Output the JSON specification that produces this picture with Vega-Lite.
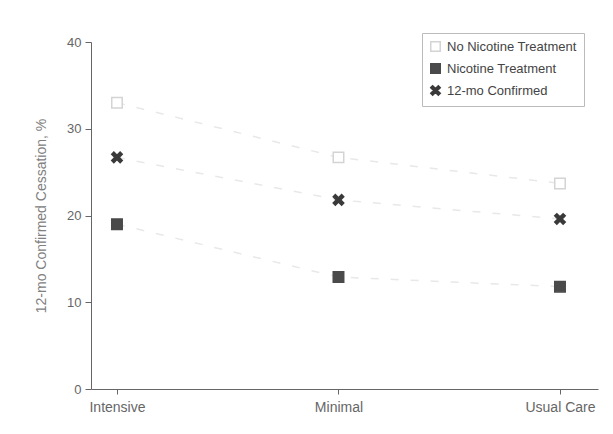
{
  "$schema": "https://vega.github.io/schema/vega-lite/v6.json",
  "autosize": "none",
  "width": 507,
  "height": 347,
  "padding": {"left": 91, "top": 42, "right": 15, "bottom": 45},
  "background": "white",
  "config": {
    "view": {"stroke": null},
    "font": "Liberation Sans, sans-serif",
    "axis": {"labelColor": "#666666", "titleColor": "#808080", "domainColor": "#666666", "tickColor": "#666666", "grid": false, "labelFont": "Liberation Sans, sans-serif", "titleFont": "Liberation Sans, sans-serif"},
    "legend": {"labelFont": "Liberation Sans, sans-serif"}
  },
  "data": {
    "values": [
      {"group": "Intensive", "series": "No Nicotine Treatment", "value": 33.0},
      {"group": "Minimal", "series": "No Nicotine Treatment", "value": 26.7},
      {"group": "Usual Care", "series": "No Nicotine Treatment", "value": 23.7},
      {"group": "Intensive", "series": "Nicotine Treatment", "value": 19.0},
      {"group": "Minimal", "series": "Nicotine Treatment", "value": 12.9},
      {"group": "Usual Care", "series": "Nicotine Treatment", "value": 11.8},
      {"group": "Intensive", "series": "12-mo Confirmed", "value": 26.7},
      {"group": "Minimal", "series": "12-mo Confirmed", "value": 21.8},
      {"group": "Usual Care", "series": "12-mo Confirmed", "value": 19.6}
    ]
  },
  "encoding": {
    "x": {
      "field": "group", "type": "nominal",
      "sort": ["Intensive", "Minimal", "Usual Care"],
      "scale": {"type": "point", "padding": 0.1445, "align": 0.406},
      "axis": {"title": null, "labelAngle": 0, "labelFontSize": 14, "labelPadding": 6, "tickSize": 5}
    },
    "y": {
      "field": "value", "type": "quantitative",
      "scale": {"domain": [0, 40]},
      "axis": {"title": "12-mo Confirmed Cessation, %", "values": [0, 10, 20, 30, 40], "labelFontSize": 13, "titleFontSize": 14, "titleFontWeight": "normal", "tickSize": 6, "labelPadding": 4, "titlePadding": 18}
    }
  },
  "layer": [
    {
      "mark": {"type": "line", "strokeDash": [8, 12], "strokeWidth": 1.5, "color": "#e8e8e8"},
      "encoding": {"detail": {"field": "series"}}
    },
    {
      "mark": {"type": "point", "size": 110, "strokeWidth": 1.5, "opacity": 1},
      "encoding": {
        "shape": {
          "field": "series", "type": "nominal",
          "scale": {"domain": ["No Nicotine Treatment", "Nicotine Treatment", "12-mo Confirmed"], "range": ["square", "square", "M-1,-0.6L-0.6,-1L0,-0.4L0.6,-1L1,-0.6L0.4,0L1,0.6L0.6,1L0,0.4L-0.6,1L-1,0.6L-0.4,0Z"]},
          "legend": {"title": null, "orient": "none", "legendX": 331, "legendY": -9, "strokeColor": "#bbbbbb", "padding": 7, "labelFontSize": 13, "labelColor": "#444444", "symbolSize": 90, "rowPadding": 5, "labelOffset": 5}
        },
        "fill": {
          "field": "series", "type": "nominal",
          "scale": {"domain": ["No Nicotine Treatment", "Nicotine Treatment", "12-mo Confirmed"], "range": ["#ffffff", "#4a4a4a", "#3a3a3a"]},
          "legend": {"title": null, "orient": "none", "legendX": 331, "legendY": -9}
        },
        "stroke": {
          "field": "series", "type": "nominal",
          "scale": {"domain": ["No Nicotine Treatment", "Nicotine Treatment", "12-mo Confirmed"], "range": ["#d4d4d4", "#4a4a4a", "#3a3a3a"]},
          "legend": {"title": null, "orient": "none", "legendX": 331, "legendY": -9}
        }
      }
    }
  ]
}
